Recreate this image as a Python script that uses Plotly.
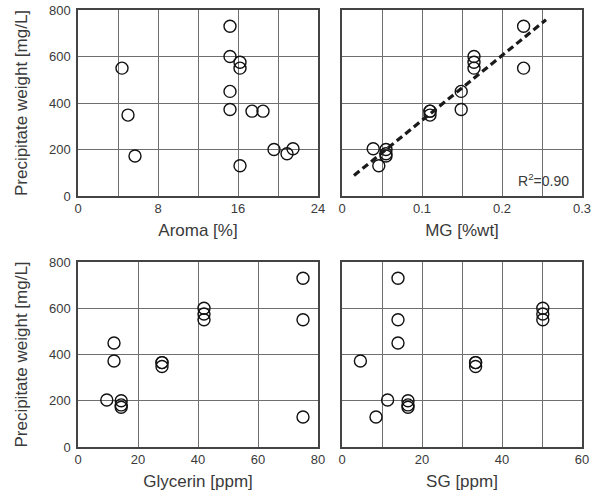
import numpy as np
import plotly.graph_objects as go
from plotly.subplots import make_subplots

# Precipitate weight per sample [mg/L] and the matching property of each sample
precipitate = [730, 550, 130, 450, 372, 203, 200, 182, 172, 348, 365, 365, 550, 575, 600]
aroma = [15.2, 4.4, 16.2, 15.2, 15.2, 21.5, 19.6, 20.9, 5.7, 5.0, 17.4, 18.5, 16.2, 16.2, 15.2]
mg = [0.227, 0.227, 0.046, 0.149, 0.149, 0.039, 0.055, 0.055, 0.055, 0.11, 0.11, 0.11, 0.165, 0.165, 0.165]
glycerin = [75, 75, 75, 12, 12, 9.6, 14.4, 14.4, 14.4, 28, 28, 28, 42, 42, 42]
sg = [14, 14, 8.5, 14, 4.6, 11.4, 16.5, 16.5, 16.5, 33.4, 33.4, 33.4, 50.2, 50.2, 50.2]

r2_label = "R<sup>2</sup>=0.90"
fit_range = [0.015, 0.255]

FONT = "Liberation Sans, Arial, sans-serif"
TXT = "#3a3a3a"
GRID = "#6e6e6e"
FRAME = "#444444"

fig = make_subplots(rows=2, cols=2)

panels = [
    (1, 1, aroma, "Aroma [%]", [0, 24], 4, {0: "0", 8: "8", 16: "16", 24: "24"}),
    (1, 2, mg, "MG [%wt]", [0, 0.3], 0.05, {0: "0", 0.1: "0.1", 0.2: "0.2", 0.3: "0.3"}),
    (2, 1, glycerin, "Glycerin [ppm]", [0, 80], 20, {0: "0", 20: "20", 40: "40", 60: "60", 80: "80"}),
    (2, 2, sg, "SG [ppm]", [0, 60], 10, {0: "0", 20: "20", 40: "40", 60: "60"}),
]

for row, col, xs, title, rng, step, labels in panels:
    fig.add_trace(
        go.Scatter(
            x=xs, y=precipitate, mode="markers",
            marker=dict(symbol="circle-open", size=12, color="#111111",
                        line=dict(width=1.4, color="#111111")),
            showlegend=False, hoverinfo="x+y",
        ),
        row=row, col=col,
    )
    vals = list(np.round(np.arange(rng[0], rng[1] + step / 2, step), 4))
    text = [labels.get(round(v, 4), "") for v in vals]
    fig.update_xaxes(
        range=rng, tickvals=vals, ticktext=text,
        showgrid=True, gridcolor=GRID, gridwidth=1,
        showline=True, linecolor=FRAME, linewidth=1.5, mirror=True,
        zeroline=False, ticks="",
        tickfont=dict(family=FONT, size=13, color=TXT),
        title=dict(text=title, font=dict(family=FONT, size=17, color=TXT), standoff=9),
        automargin=False,
        row=row, col=col,
    )
    yaxis_opts = dict(
        range=[0, 800], tickvals=[0, 200, 400, 600, 800],
        showticklabels=(col == 1),
        showgrid=True, gridcolor=GRID, gridwidth=1,
        showline=True, linecolor=FRAME, linewidth=1.5, mirror=True,
        zeroline=False, ticks="", ticklabelstandoff=3,
        tickfont=dict(family=FONT, size=13, color=TXT),
        automargin=False,
    )
    if col == 1:
        yaxis_opts["title"] = dict(text="Precipitate weight [mg/L]",
                                   font=dict(family=FONT, size=17, color=TXT), standoff=17)
    fig.update_yaxes(row=row, col=col, **yaxis_opts)

# Least-squares trend line of precipitate against MG
slope, intercept = np.polyfit(mg, precipitate, 1)
fx = np.array(fit_range)
fig.add_trace(
    go.Scatter(x=fx, y=slope * fx + intercept, mode="lines",
               line=dict(color="#1a1a1a", width=3.2, dash="7px,4px"),
               showlegend=False, hoverinfo="skip"),
    row=1, col=2,
)
fig.add_annotation(
    x=0.286, y=20, xref="x2", yref="y2", text=r2_label, showarrow=False,
    xanchor="right", yanchor="bottom",
    font=dict(family=FONT, size=14, color=TXT),
)

fig.update_layout(
    width=598, height=495,
    margin=dict(l=0, r=0, t=0, b=0),
    paper_bgcolor="white", plot_bgcolor="white",
    xaxis=dict(domain=[78 / 598, 318 / 598]),
    xaxis2=dict(domain=[342 / 598, 582 / 598]),
    xaxis3=dict(domain=[78 / 598, 318 / 598]),
    xaxis4=dict(domain=[342 / 598, 582 / 598]),
    yaxis=dict(domain=[1 - 196 / 495, 1 - 10 / 495]),
    yaxis2=dict(domain=[1 - 196 / 495, 1 - 10 / 495]),
    yaxis3=dict(domain=[1 - 447 / 495, 1 - 262 / 495]),
    yaxis4=dict(domain=[1 - 447 / 495, 1 - 262 / 495]),
)

fig.write_html("out.html")
